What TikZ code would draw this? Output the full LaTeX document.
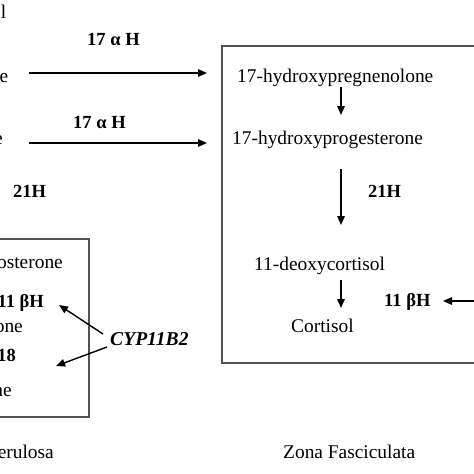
\documentclass[tikz,border=0pt]{standalone}
\usepackage{fontspec}
\setmainfont{Liberation Serif}
\usetikzlibrary{arrows.meta}
\begin{document}
\begin{tikzpicture}[x=1pt,y=-1pt,
  font=\fontsize{19.4}{23}\selectfont,
  lbl/.style={inner sep=0pt,anchor=base west},
  lblr/.style={inner sep=0pt,anchor=base east},
  enz/.style={inner sep=0pt,anchor=base west,font=\fontsize{18.5}{22}\selectfont\bfseries},
  enzr/.style={inner sep=0pt,anchor=base east,font=\fontsize{18.5}{22}\selectfont\bfseries},
  gene/.style={inner sep=0pt,anchor=base west,font=\fontsize{19.6}{23}\selectfont\bfseries\itshape},
  zone/.style={draw=black!68,line width=1.3pt},
  arr/.style={line width=1.4pt,-{Triangle[length=9pt,width=7.5pt]}}]
\useasboundingbox (0,0) rectangle (474,474);
\clip (0,0) rectangle (474,474);
% zone boxes
\draw[zone] (480,46) -- (222,46) -- (222,363) -- (480,363);
\draw[zone] (-10,239) -- (89,239) -- (89,417) -- (-10,417);
% left column (cut at the edge)
\node[lblr] (chol) at (6.5,18) {Cholesterol};
\node[lblr] (preg) at (8.5,82) {Pregnenolone};
\node[lblr] (prog) at (3,144) {Progesterone};
\node[enz] (h21a) at (13,197) {21H};
\node[enz] (a17a) at (87,45) {17 α H};
\node[enz] (a17b) at (73,128) {17 α H};
% zona glomerulosa
\node[lblr] (doc) at (63,268) {11-deoxycorticosterone};
\node[enzr] (b11a) at (44,307) {11 βH};
\node[lblr] (cort) at (23,332) {Corticosterone};
\node[enzr] (h18) at (16,361) {18};
\node[lblr] (aldo) at (12,396) {Aldosterone};
\node[lblr] (zg) at (54,458) {Zona Glomerulosa};
\node[gene] (cyp) at (110,345) {CYP11B2};
% zona fasciculata
\node[lbl] (ohpreg) at (237,82) {17-hydroxypregnenolone};
\node[lbl] (ohprog) at (232,144) {17-hydroxyprogesterone};
\node[enz] (h21b) at (368,197) {21H};
\node[lbl] (dcort) at (254,270) {11-deoxycortisol};
\node[lbl] (cortisol) at (291,332) {Cortisol};
\node[enz] (b11b) at (384,306) {11 βH};
\node[lbl] (zf) at (283,458) {Zona Fasciculata};
% connector end points
\coordinate (p1s) at (29,73);  \coordinate (p1e) at (207,73);
\coordinate (p2s) at (29,143); \coordinate (p2e) at (207,143);
\coordinate (d1s) at (341,87); \coordinate (d1e) at (341,115);
\coordinate (d2s) at (341,169); \coordinate (d2e) at (341,225);
\coordinate (d3s) at (341,280); \coordinate (d3e) at (341,308);
\coordinate (rs) at (480,301); \coordinate (re) at (443,301);
\coordinate (c1s) at (103,334); \coordinate (c1e) at (59,305);
\coordinate (c2s) at (107,347); \coordinate (c2e) at (56,366);
\draw[arr] (p1s) -- (p1e);
\draw[arr] (p2s) -- (p2e);
\draw[arr] (d1s) -- (d1e);
\draw[arr] (d2s) -- (d2e);
\draw[arr] (d3s) -- (d3e);
\draw[arr] (rs) -- (re);
\draw[arr] (c1s) -- (c1e);
\draw[arr] (c2s) -- (c2e);
\end{tikzpicture}
\end{document}
